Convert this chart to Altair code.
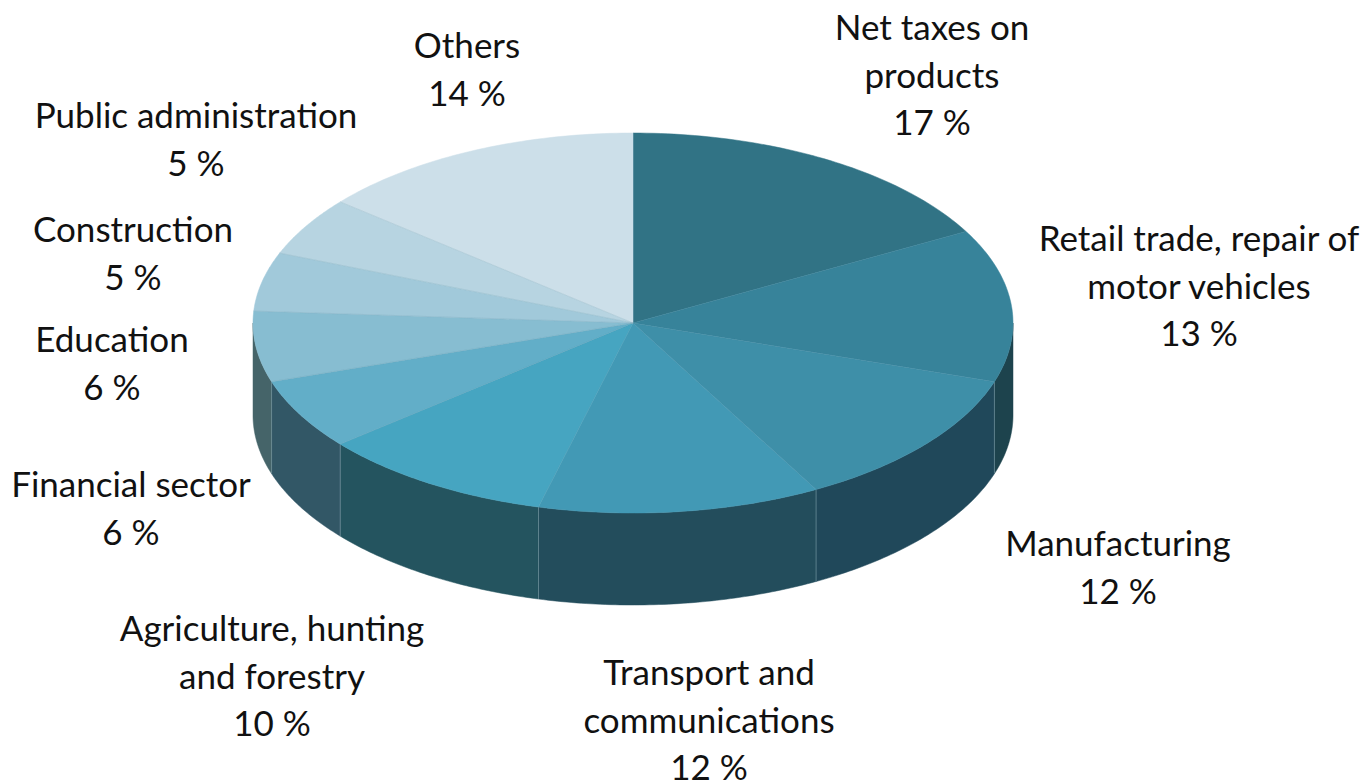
import numpy as np
import pandas as pd
import altair as alt

categories = ["Net taxes on\nproducts", "Retail trade, repair of\nmotor vehicles", "Manufacturing",
              "Transport and\ncommunications", "Agriculture, hunting\nand forestry", "Financial sector",
              "Education", "Construction", "Public administration", "Others"]
shares = [17, 13, 12, 12, 10, 6, 6, 5, 5, 14]
top_colors = ["#317385", "#37839a", "#3e8fa8", "#4299b5", "#46a5c1",
              "#62aec8", "#87bdd1", "#a1c9da", "#b7d4e1", "#ccdfe9"]
wall_colors = ["#1d434d", "#1d434d", "#20485a", "#234d5c", "#24545f",
               "#325766", "#456469", "#456469", "#456469", "#456469"]

# layout (page pixels)
W, H = 1352, 772
CX, CY, RX, RY, DEPTH = 633, 323, 380, 190, 92
label_x = [932, 1199, 1118, 709, 272, 131, 112, 133, 196, 467]
label_y = [29, 240, 545, 674, 630, 486, 341, 231, 117, 47]
FONT = "Lato"
FONT_SIZE = 35
LINE_HEIGHT = 47.5

edges = np.cumsum([0] + shares) / sum(shares) * 2 * np.pi
top_rows, wall_rows, div_rows = [], [], []
for k, name in enumerate(categories):
    a0, a1 = edges[k], edges[k + 1]
    arc = np.linspace(a0, a1, 60)
    pts = [(CX, CY)] + [(CX + RX * np.sin(t), CY - RY * np.cos(t)) for t in arc] + [(CX, CY)]
    for i, (x, y) in enumerate(pts):
        top_rows.append(dict(s=k, i=i, x=x, y=y, c=top_colors[k]))
    lo, hi = max(a0, np.pi / 2), min(a1, 3 * np.pi / 2)
    if hi > lo:
        arc = np.linspace(lo, hi, 60)
        up = [(CX + RX * np.sin(t), CY - RY * np.cos(t)) for t in arc]
        down = [(x, y + DEPTH) for x, y in up][::-1]
        for i, (x, y) in enumerate(up + down + up[:1]):
            wall_rows.append(dict(s=k, i=i, x=x, y=y, c=wall_colors[k]))
    if np.pi / 2 < a1 < 3 * np.pi / 2:
        x, y = CX + RX * np.sin(a1), CY - RY * np.cos(a1)
        div_rows.append(dict(x=x, y=y, y2=y + DEPTH))

xs = alt.Scale(domain=[8, 8 + W], range=[0, W], nice=False, zero=False)
ys = alt.Scale(domain=[8, 8 + H], range=[0, H], nice=False, zero=False)
X = alt.X("x:Q", scale=xs, axis=None)
Y = alt.Y("y:Q", scale=ys, axis=None)


def polys(rows, sw):
    return alt.Chart(pd.DataFrame(rows)).mark_line(strokeWidth=sw, interpolate="linear").encode(
        x=X, y=Y, order="i:Q", detail="s:N",
        fill=alt.Fill("c:N", scale=None, legend=None),
        stroke=alt.Stroke("c:N", scale=None, legend=None),
    )


walls = polys(wall_rows, 0.5)
dividers = alt.Chart(pd.DataFrame(div_rows)).mark_rule(color="#7d9ea8", strokeWidth=0.6).encode(x=X, y=Y, y2="y2:Q")
tops = polys(top_rows, 0.5)
spokes = alt.Chart(pd.DataFrame([dict(s=k, i=i, x=x, y=y) for k, a in enumerate(edges[1:-1])
                                 for i, (x, y) in enumerate([(CX, CY), (CX + RX * np.sin(a), CY - RY * np.cos(a))])])
                   ).mark_line(strokeWidth=0.6, color="#5f93a6", opacity=0.35).encode(x=X, y=Y, order="i:Q", detail="s:N")

labels = pd.DataFrame(dict(x=label_x, y=label_y,
                           t=[f"{c}\n{s} %" for c, s in zip(categories, shares)]))
text = alt.Chart(labels).mark_text(font=FONT, fontSize=FONT_SIZE, lineBreak="\n", lineHeight=LINE_HEIGHT,
                                   align="center", baseline="middle", color="#111111").encode(x=X, y=Y, text="t:N")

chart = alt.layer(walls, dividers, tops, spokes, text).properties(
    width=W, height=H, padding=0, autosize=alt.AutoSizeParams(type="none")
).configure_view(stroke=None)
chart.save("out.html", embed_options={"renderer": "svg", "actions": False})
